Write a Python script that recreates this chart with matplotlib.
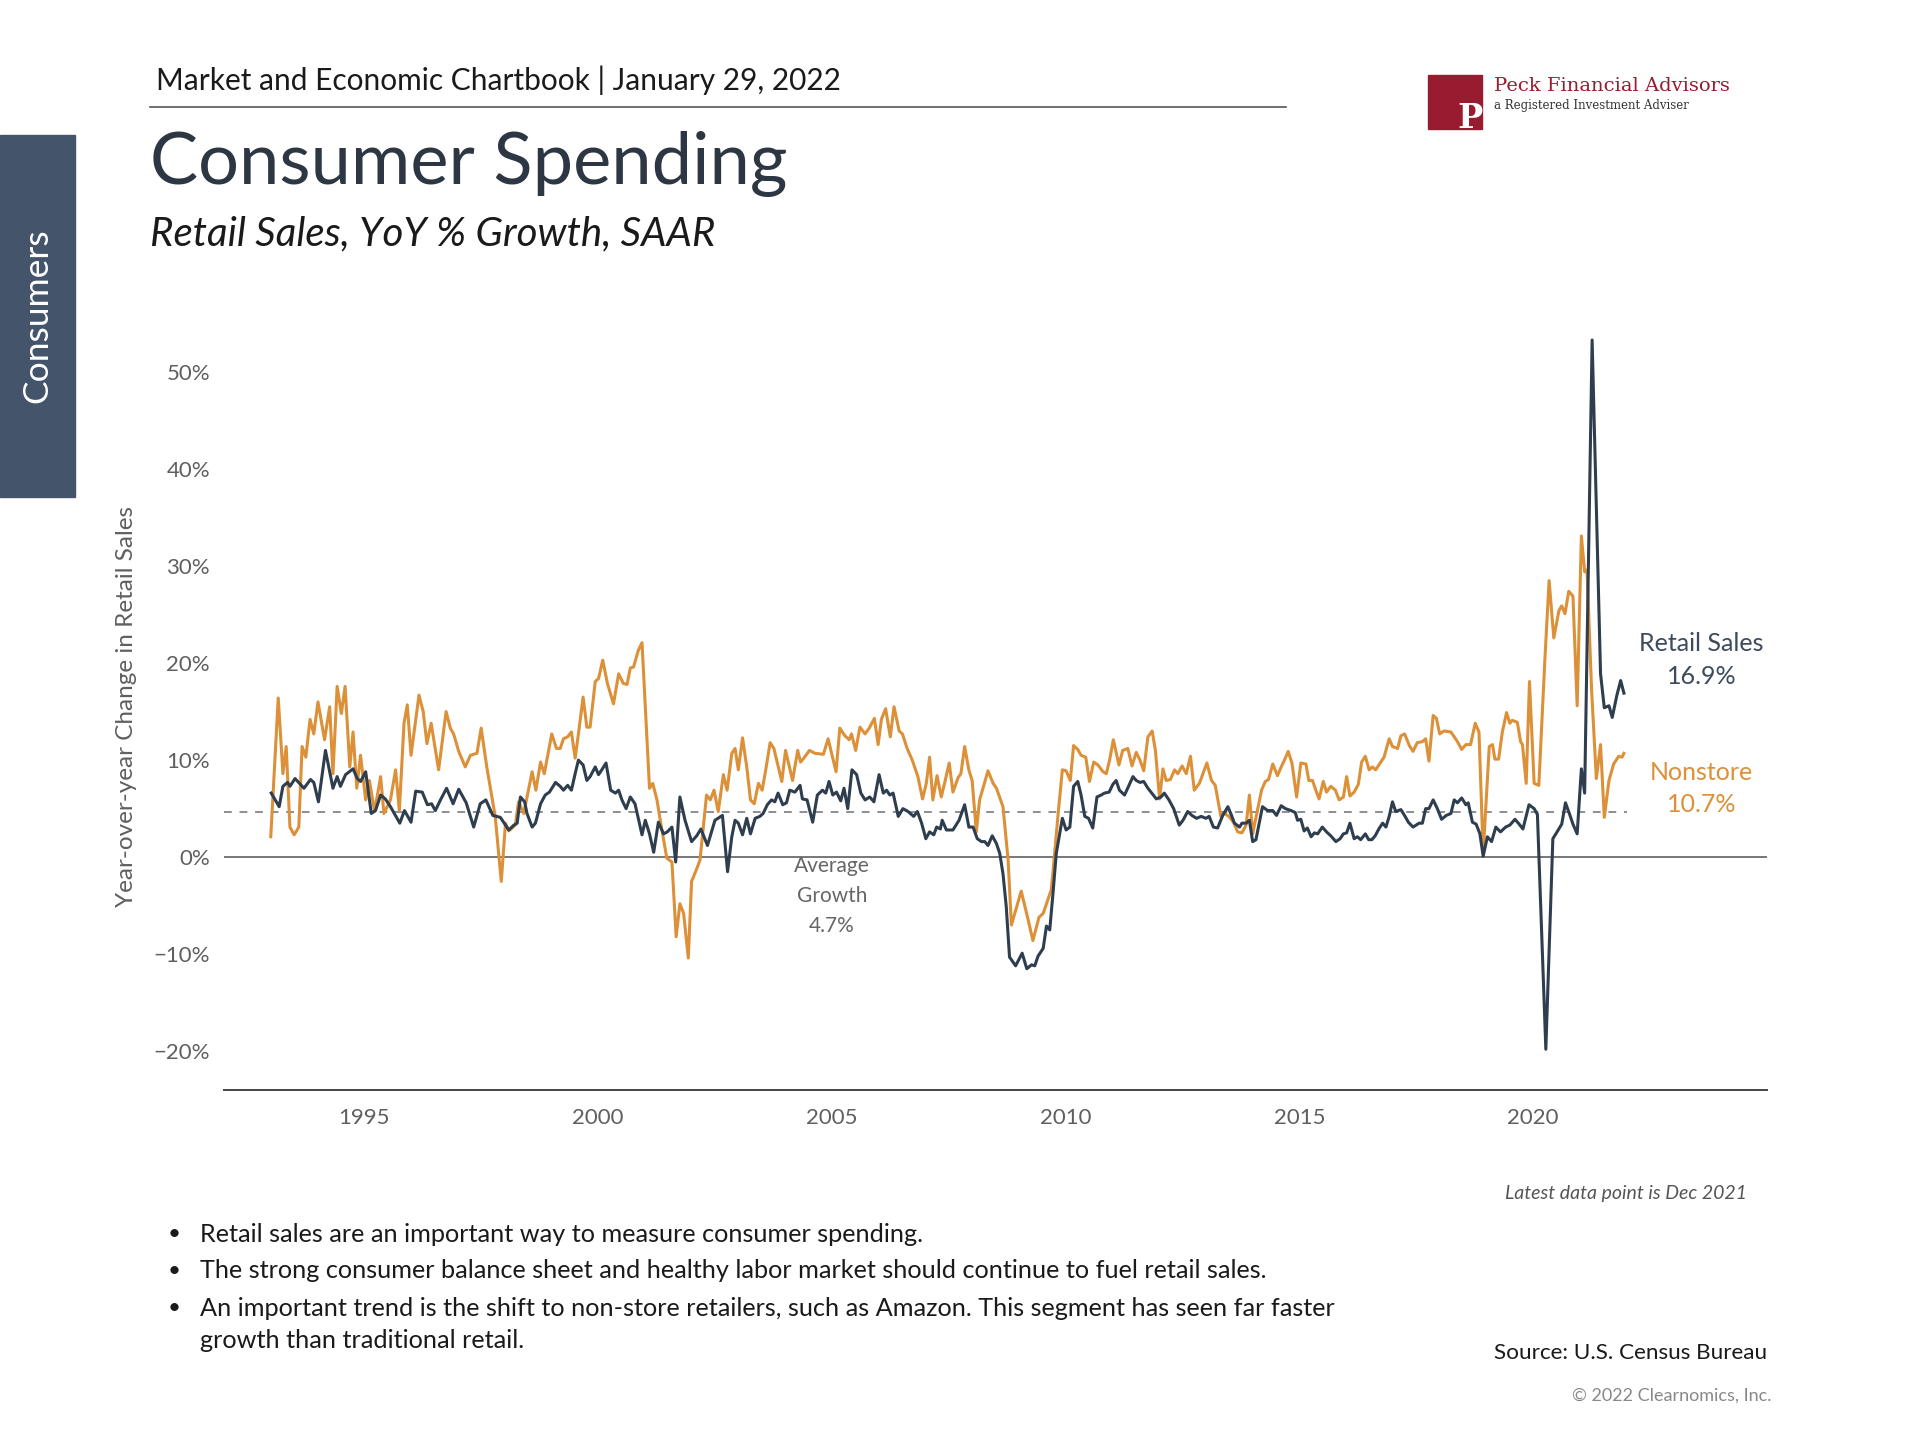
import matplotlib
matplotlib.use("Agg")
import matplotlib.pyplot as plt
from matplotlib.patches import Rectangle

# retail sales, YoY % (decimal year, value)
retail_t = [
    1993.01, 1993.18, 1993.26, 1993.36, 1993.41, 1993.52, 1993.71, 1993.85, 1993.92, 1994.02,
    1994.17, 1994.33, 1994.42, 1994.49, 1994.60, 1994.76, 1994.85, 1994.92, 1995.03, 1995.15,
    1995.24, 1995.35, 1995.45, 1995.56, 1995.76, 1995.86, 1996.00, 1996.10, 1996.24, 1996.35,
    1996.44, 1996.52, 1996.63, 1996.76, 1996.90, 1997.02, 1997.18, 1997.34, 1997.48, 1997.60,
    1997.75, 1997.91, 1998.09, 1998.20, 1998.27, 1998.34, 1998.43, 1998.48, 1998.59, 1998.66,
    1998.77, 1998.87, 1998.96, 1999.09, 1999.19, 1999.26, 1999.35, 1999.43, 1999.51, 1999.58,
    1999.68, 1999.76, 1999.83, 1999.94, 2000.01, 2000.08, 2000.17, 2000.27, 2000.37, 2000.44,
    2000.51, 2000.60, 2000.69, 2000.79, 2000.87, 2000.94, 2001.01, 2001.10, 2001.19, 2001.29,
    2001.40, 2001.48, 2001.58, 2001.66, 2001.75, 2001.86, 2002.00, 2002.11, 2002.20, 2002.34,
    2002.50, 2002.66, 2002.77, 2002.86, 2002.93, 2003.00, 2003.09, 2003.18, 2003.26, 2003.36,
    2003.46, 2003.53, 2003.62, 2003.71, 2003.78, 2003.85, 2003.95, 2004.03, 2004.10, 2004.21,
    2004.32, 2004.37, 2004.47, 2004.59, 2004.69, 2004.80, 2004.87, 2004.94, 2005.02, 2005.10,
    2005.19, 2005.26, 2005.34, 2005.43, 2005.53, 2005.62, 2005.71, 2005.81, 2005.90, 2006.01,
    2006.10, 2006.17, 2006.24, 2006.31, 2006.42, 2006.52, 2006.63, 2006.75, 2006.83, 2006.92,
    2007.01, 2007.09, 2007.18, 2007.24, 2007.32, 2007.36, 2007.45, 2007.59, 2007.72, 2007.84,
    2007.93, 2008.02, 2008.11, 2008.20, 2008.27, 2008.34, 2008.43, 2008.52, 2008.59, 2008.66,
    2008.73, 2008.80, 2008.93, 2009.07, 2009.17, 2009.27, 2009.34, 2009.41, 2009.52, 2009.59,
    2009.66, 2009.73, 2009.80, 2009.93, 2010.01, 2010.09, 2010.17, 2010.26, 2010.33, 2010.41,
    2010.49, 2010.58, 2010.67, 2010.76, 2010.83, 2010.93, 2011.01, 2011.08, 2011.15, 2011.26,
    2011.44, 2011.51, 2011.59, 2011.67, 2011.76, 2011.94, 2012.04, 2012.11, 2012.21, 2012.31,
    2012.43, 2012.51, 2012.61, 2012.70, 2012.80, 2012.90, 2013.00, 2013.07, 2013.16, 2013.25,
    2013.36, 2013.47, 2013.54, 2013.61, 2013.72, 2013.77, 2013.86, 2013.93, 2014.00, 2014.07,
    2014.14, 2014.21, 2014.32, 2014.43, 2014.51, 2014.61, 2014.70, 2014.82, 2014.91, 2014.96,
    2015.03, 2015.10, 2015.17, 2015.25, 2015.32, 2015.39, 2015.49, 2015.58, 2015.67, 2015.78,
    2015.87, 2015.94, 2016.01, 2016.08, 2016.17, 2016.24, 2016.31, 2016.41, 2016.48, 2016.55,
    2016.62, 2016.71, 2016.78, 2016.85, 2016.92, 2016.99, 2017.06, 2017.17, 2017.26, 2017.33,
    2017.43, 2017.56, 2017.63, 2017.70, 2017.77, 2017.86, 2017.95, 2018.04, 2018.14, 2018.24,
    2018.31, 2018.38, 2018.47, 2018.56, 2018.61, 2018.70, 2018.78, 2018.86, 2018.93, 2019.02,
    2019.11, 2019.20, 2019.30, 2019.41, 2019.50, 2019.61, 2019.70, 2019.78, 2019.91, 2020.02,
    2020.09, 2020.27, 2020.42, 2020.51, 2020.61, 2020.69, 2020.78, 2020.85, 2020.94, 2021.03,
    2021.10, 2021.26, 2021.44, 2021.52, 2021.62, 2021.69, 2021.79, 2021.87, 2021.94,
]
retail_v = [
    6.6, 5.2, 7.3, 7.7, 7.3, 8.1, 7.1, 8.0, 7.7, 5.7,
    11.0, 7.1, 8.3, 7.3, 8.5, 9.1, 8.1, 7.8, 8.8, 4.5,
    4.8, 6.4, 6.0, 5.2, 3.5, 4.8, 3.6, 6.8, 6.7, 5.4,
    5.5, 4.8, 5.9, 7.1, 5.5, 7.0, 5.6, 3.1, 5.5, 5.9,
    4.3, 4.1, 2.8, 3.3, 3.5, 6.2, 5.7, 4.5, 3.1, 3.5,
    5.5, 6.4, 6.7, 7.7, 7.3, 6.9, 7.4, 6.9, 8.6, 10.0,
    9.5, 7.9, 8.3, 9.3, 8.5, 9.0, 9.7, 6.9, 6.6, 6.9,
    5.9, 5.0, 6.2, 5.5, 3.8, 2.3, 3.8, 2.4, 0.5, 3.6,
    2.4, 2.6, 3.1, -0.5, 6.2, 3.8, 1.6, 2.2, 2.9, 1.2,
    3.8, 4.3, -1.5, 2.1, 3.8, 3.5, 2.3, 4.0, 2.4, 4.0,
    4.2, 4.5, 5.4, 5.9, 5.7, 6.6, 5.4, 5.6, 6.9, 6.7,
    7.4, 6.0, 5.9, 3.6, 6.4, 6.9, 6.6, 7.8, 6.4, 6.7,
    5.8, 7.1, 5.0, 9.0, 8.5, 6.6, 5.9, 6.2, 5.7, 8.5,
    6.6, 6.9, 6.4, 6.6, 4.2, 5.0, 4.7, 4.2, 4.7, 3.5,
    1.9, 2.6, 2.3, 3.1, 2.9, 3.8, 2.8, 2.8, 3.8, 5.4,
    3.1, 3.1, 1.9, 1.6, 1.6, 1.2, 2.2, 1.4, 0.4, -1.7,
    -5.1, -10.3, -11.2, -9.9, -11.5, -11.1, -11.2, -10.2, -9.4, -7.1,
    -7.5, -3.7, 0.4, 4.0, 2.8, 3.1, 7.3, 7.8, 6.4, 4.2,
    4.0, 3.0, 6.2, 6.4, 6.6, 6.7, 7.5, 7.9, 6.9, 6.4,
    8.3, 7.9, 7.7, 7.8, 7.1, 6.0, 6.2, 6.6, 5.9, 5.0,
    3.3, 3.8, 4.7, 4.3, 4.0, 4.2, 4.0, 4.2, 3.1, 3.0,
    4.3, 5.2, 4.4, 3.5, 3.1, 3.5, 3.5, 3.8, 1.6, 1.8,
    3.5, 5.2, 4.8, 4.8, 4.3, 5.3, 5.0, 4.8, 4.6, 3.8,
    3.9, 2.7, 3.0, 2.1, 2.5, 2.4, 3.1, 2.6, 2.2, 1.6,
    1.9, 2.4, 2.5, 3.5, 1.9, 2.1, 1.8, 2.4, 1.8, 1.8,
    2.2, 3.0, 3.5, 3.1, 4.2, 5.7, 4.7, 4.9, 4.2, 3.6,
    3.1, 3.5, 3.5, 5.0, 5.0, 5.9, 5.0, 3.9, 4.3, 4.5,
    5.9, 5.6, 6.1, 5.4, 5.6, 3.6, 3.4, 2.4, 0.1, 2.1,
    1.6, 3.1, 2.6, 3.1, 3.3, 3.9, 3.4, 2.9, 5.4, 5.0,
    4.4, -19.8, 1.9, 2.6, 3.4, 5.6, 4.4, 3.4, 2.4, 9.1,
    6.6, 53.3, 18.9, 15.4, 15.6, 14.4, 16.7, 18.2, 16.9,
]

# nonstore retailers, YoY %
nonstore_t = [
    1993.00, 1993.16, 1993.26, 1993.33, 1993.41, 1993.50, 1993.60, 1993.67, 1993.75, 1993.84,
    1993.92, 1994.01, 1994.15, 1994.26, 1994.33, 1994.42, 1994.51, 1994.59, 1994.69, 1994.76,
    1994.84, 1994.92, 1995.03, 1995.11, 1995.22, 1995.35, 1995.42, 1995.56, 1995.67, 1995.75,
    1995.85, 1995.92, 1996.00, 1996.17, 1996.26, 1996.34, 1996.43, 1996.59, 1996.75, 1996.84,
    1996.91, 1997.02, 1997.16, 1997.27, 1997.41, 1997.50, 1997.62, 1997.80, 1997.93, 1998.02,
    1998.09, 1998.23, 1998.30, 1998.41, 1998.59, 1998.67, 1998.77, 1998.85, 1999.01, 1999.11,
    1999.19, 1999.26, 1999.35, 1999.43, 1999.51, 1999.58, 1999.68, 1999.76, 1999.83, 1999.94,
    2000.01, 2000.10, 2000.20, 2000.33, 2000.44, 2000.54, 2000.62, 2000.69, 2000.76, 2000.86,
    2000.94, 2001.10, 2001.17, 2001.26, 2001.33, 2001.47, 2001.58, 2001.67, 2001.75, 2001.83,
    2001.93, 2002.00, 2002.11, 2002.18, 2002.32, 2002.40, 2002.48, 2002.57, 2002.68, 2002.76,
    2002.86, 2002.93, 2003.00, 2003.09, 2003.18, 2003.26, 2003.34, 2003.43, 2003.51, 2003.59,
    2003.68, 2003.76, 2003.93, 2004.01, 2004.16, 2004.27, 2004.33, 2004.40, 2004.52, 2004.64,
    2004.82, 2004.92, 2005.09, 2005.17, 2005.28, 2005.37, 2005.42, 2005.51, 2005.60, 2005.71,
    2005.80, 2005.91, 2005.99, 2006.06, 2006.15, 2006.25, 2006.33, 2006.44, 2006.51, 2006.61,
    2006.72, 2006.84, 2006.94, 2007.02, 2007.09, 2007.16, 2007.25, 2007.34, 2007.41, 2007.51,
    2007.59, 2007.70, 2007.76, 2007.84, 2007.93, 2008.00, 2008.09, 2008.16, 2008.34, 2008.45,
    2008.52, 2008.66, 2008.77, 2008.84, 2008.93, 2009.05, 2009.20, 2009.30, 2009.43, 2009.52,
    2009.69, 2009.73, 2009.84, 2009.93, 2010.01, 2010.10, 2010.17, 2010.26, 2010.33, 2010.43,
    2010.51, 2010.60, 2010.69, 2010.80, 2010.87, 2010.94, 2011.02, 2011.14, 2011.22, 2011.33,
    2011.42, 2011.51, 2011.59, 2011.67, 2011.76, 2011.85, 2011.92, 2012.01, 2012.08, 2012.15,
    2012.24, 2012.33, 2012.40, 2012.49, 2012.58, 2012.67, 2012.75, 2012.86, 2013.02, 2013.12,
    2013.20, 2013.32, 2013.40, 2013.49, 2013.59, 2013.68, 2013.77, 2013.86, 2013.93, 2014.00,
    2014.11, 2014.19, 2014.27, 2014.34, 2014.43, 2014.53, 2014.61, 2014.68, 2014.76, 2014.84,
    2014.94, 2015.03, 2015.14, 2015.20, 2015.28, 2015.35, 2015.42, 2015.51, 2015.58, 2015.67,
    2015.77, 2015.85, 2015.94, 2016.01, 2016.08, 2016.17, 2016.26, 2016.33, 2016.41, 2016.49,
    2016.56, 2016.63, 2016.74, 2016.81, 2016.92, 2016.99, 2017.10, 2017.17, 2017.25, 2017.35,
    2017.43, 2017.52, 2017.63, 2017.70, 2017.77, 2017.86, 2017.93, 2018.00, 2018.09, 2018.24,
    2018.38, 2018.47, 2018.56, 2018.66, 2018.76, 2018.84, 2018.93, 2019.06, 2019.13, 2019.18,
    2019.26, 2019.34, 2019.43, 2019.50, 2019.55, 2019.66, 2019.73, 2019.77, 2019.85, 2019.92,
    2020.02, 2020.12, 2020.25, 2020.34, 2020.44, 2020.55, 2020.61, 2020.68, 2020.76, 2020.85,
    2020.94, 2021.03, 2021.10, 2021.15, 2021.25, 2021.35, 2021.44, 2021.52, 2021.62, 2021.72,
    2021.83, 2021.90, 2021.94,
]
nonstore_v = [
    2.1, 16.4, 8.6, 11.4, 3.1, 2.3, 3.1, 11.4, 10.3, 14.2,
    12.7, 16.0, 12.1, 15.5, 8.6, 17.6, 14.8, 17.6, 9.3, 12.9,
    7.1, 10.5, 5.9, 7.9, 4.7, 8.3, 4.5, 5.9, 9.0, 4.8,
    13.8, 15.7, 10.5, 16.7, 15.0, 11.7, 13.8, 9.0, 15.0, 13.3,
    12.7, 10.9, 9.3, 10.5, 10.7, 13.3, 9.3, 4.2, -2.5, 3.5,
    2.7, 3.3, 5.7, 4.5, 8.8, 6.9, 9.8, 8.6, 12.7, 11.2,
    11.2, 12.2, 12.4, 12.9, 10.2, 12.7, 16.5, 13.4, 13.4, 18.1,
    18.4, 20.3, 17.9, 15.8, 18.9, 17.9, 17.8, 19.5, 19.6, 21.3,
    22.1, 7.1, 7.6, 5.9, 3.8, -0.1, -0.5, -8.2, -4.8, -5.8,
    -10.4, -2.5, -1.2, -0.3, 6.4, 5.9, 6.9, 4.7, 8.5, 6.9,
    10.7, 11.2, 9.0, 12.3, 9.3, 5.9, 5.5, 7.6, 6.9, 9.1,
    11.8, 11.2, 7.8, 11.0, 7.9, 11.0, 9.8, 10.2, 11.0, 10.7,
    10.6, 12.2, 8.8, 13.3, 12.5, 12.1, 12.7, 11.0, 13.4, 12.7,
    13.3, 14.3, 11.6, 14.2, 15.3, 12.4, 15.5, 13.0, 12.7, 11.2,
    10.0, 8.3, 6.0, 7.6, 10.3, 5.9, 8.4, 6.2, 7.6, 9.7,
    6.7, 8.2, 8.6, 11.4, 9.0, 7.9, 2.6, 5.9, 8.9, 7.6,
    7.1, 5.2, -0.3, -7.0, -5.5, -3.5, -6.5, -8.6, -6.2, -5.8,
    -3.4, -1.5, 4.5, 9.0, 8.9, 7.9, 11.5, 11.1, 10.5, 10.3,
    7.8, 9.8, 9.5, 8.8, 8.6, 10.0, 12.1, 9.5, 11.0, 11.2,
    9.4, 10.8, 10.0, 8.9, 12.4, 13.0, 11.0, 6.0, 9.1, 7.9,
    8.0, 9.0, 8.6, 9.4, 8.6, 10.4, 6.9, 7.6, 9.7, 7.9,
    7.4, 4.2, 4.5, 4.2, 3.6, 2.6, 2.5, 3.3, 6.4, 2.4,
    5.0, 6.9, 7.8, 8.0, 9.6, 8.4, 9.3, 10.0, 10.9, 9.7,
    6.2, 9.7, 9.6, 7.9, 7.9, 6.9, 6.0, 7.8, 6.7, 7.3,
    6.9, 5.9, 6.2, 8.3, 6.3, 6.7, 7.5, 9.8, 10.4, 9.0,
    9.3, 9.0, 9.8, 10.3, 12.2, 11.4, 11.2, 12.5, 12.7, 11.5,
    10.9, 11.8, 11.9, 12.2, 9.9, 14.6, 14.3, 12.7, 13.0, 12.9,
    11.9, 11.1, 11.6, 11.6, 13.8, 12.9, 0.4, 11.4, 11.6, 10.1,
    10.1, 12.9, 14.9, 13.8, 14.1, 13.9, 11.9, 11.6, 7.6, 18.1,
    7.6, 7.4, 20.4, 28.5, 22.6, 25.4, 25.9, 25.1, 27.4, 26.9,
    15.6, 33.1, 29.4, 29.6, 17.1, 8.1, 11.6, 4.1, 7.9, 9.6,
    10.4, 10.3, 10.7,
]

avg_growth = 4.7
y_ticks = [-20, -10, 0, 10, 20, 30, 40, 50]
x_ticks = [1995, 2000, 2005, 2010, 2015, 2020]

bullets = [
    ["Retail sales are an important way to measure consumer spending."],
    ["The strong consumer balance sheet and healthy labor market should continue to fuel retail sales."],
    ["An important trend is the shift to non-store retailers, such as Amazon. This segment has seen far faster",
     "growth than traditional retail."],
]

BLUE = "#2e3e4e"
ORANGE = "#dc9038"
SLATE = "#44546a"
MAROON = "#981b30"
GREY = "#5f5f5f"

plt.rcParams["font.family"] = ["Lato", "DejaVu Sans"]

fig = plt.figure(figsize=(19.2, 14.4), dpi=100)

# header
fig.text(156 / 1920, 1 - 80 / 1440, "Market and Economic Chartbook | January 29, 2022",
         fontsize=21.5, color="#1a1a1a", va="center", ha="left")
fig.add_artist(plt.Line2D([150 / 1920, 1286 / 1920], [1 - 107 / 1440] * 2, color="#555555", lw=1.2))
fig.text(150 / 1920, 1 - 164 / 1440, "Consumer Spending", fontsize=52, color="#2d3743",
         va="center", ha="left")
fig.text(150 / 1920, 1 - 234 / 1440, "Retail Sales, YoY % Growth, SAAR", fontsize=29,
         style="italic", color="#1a1a1a", va="center", ha="left")

# side tab
fig.patches.append(Rectangle((0, 1 - 497 / 1440), 75 / 1920, 362 / 1440,
                             transform=fig.transFigure, color=SLATE, zorder=0))
fig.text(37 / 1920, 1 - 316 / 1440, "Consumers", rotation=90, fontsize=25.5, color="white",
         va="center", ha="center")

# logo
fig.patches.append(Rectangle((1428 / 1920, 1 - 129 / 1440), 54 / 1920, 54 / 1440,
                             transform=fig.transFigure, color=MAROON, zorder=0))
fig.text(1470 / 1920, 1 - 118 / 1440, "P", fontsize=24, color="white", fontweight="bold",
         family="DejaVu Serif", va="center", ha="center")
fig.text(1494 / 1920, 1 - 86 / 1440, "Peck Financial Advisors", fontsize=14, color=MAROON,
         family="DejaVu Serif", va="center", ha="left")
fig.text(1494 / 1920, 1 - 106 / 1440, "a Registered Investment Adviser", fontsize=8.5,
         color="#333333", family="DejaVu Serif", va="center", ha="left")

# chart
ax = fig.add_axes([224 / 1920, 1 - 1090 / 1440, 1543 / 1920, 766.5 / 1440])
ax.plot(nonstore_t, nonstore_v, color=ORANGE, lw=2.2, zorder=3)
ax.plot(retail_t, retail_v, color=BLUE, lw=2.2, zorder=4)
ax.axhline(0, color="#777777", lw=1.4, zorder=1)
ax.plot([1992, 2022.0], [avg_growth, avg_growth], color="#8a8f96", lw=1.4, ls=(0, (4, 4)), zorder=2)

ax.set_xlim(1992, 2025)
ax.set_ylim(-24, 55)
ax.set_yticks(y_ticks)
ax.set_yticklabels([f"{t}%".replace("-", "\u2212") for t in y_ticks])
ax.set_xticks(x_ticks)
ax.tick_params(length=0, labelsize=16, labelcolor=GREY, pad=10)
ax.tick_params(axis="x", pad=13)
for s in ["top", "right", "left"]:
    ax.spines[s].set_visible(False)
ax.spines["bottom"].set_color("#444444")
ax.spines["bottom"].set_linewidth(1.4)
ax.set_ylabel("Year-over-year Change in Retail Sales", fontsize=17.5, color=GREY, labelpad=12)

ax.text(2005.0, -4.0, "Average\nGrowth\n4.7%", fontsize=15, color="#666666",
        ha="center", va="center", linespacing=1.6)
ax.text(2023.6, 20.3, f"Retail Sales\n{retail_v[-1]:.1f}%", fontsize=18, color="#3d4b5c",
        ha="center", va="center", linespacing=1.5)
ax.text(2023.6, 7.1, f"Nonstore\n{nonstore_v[-1]:.1f}%", fontsize=18, color=ORANGE,
        ha="center", va="center", linespacing=1.5)

# footer
fig.text(1747 / 1920, 1 - 1194 / 1440, "Latest data point is Dec 2021", fontsize=14,
         style="italic", color="#555555", ha="right", va="center")
y = 1234
for lines in bullets:
    fig.text(168 / 1920, 1 - y / 1440, "\u2022", fontsize=16, color="#1a1a1a", ha="left", va="center")
    for ln in lines:
        fig.text(200 / 1920, 1 - y / 1440, ln, fontsize=18.2, color="#1a1a1a", ha="left",
                 va="center")
        y += 33
    y += 4
fig.text(1767 / 1920, 1 - 1353 / 1440, "Source: U.S. Census Bureau", fontsize=16.2,
         color="#1a1a1a", ha="right", va="center")
fig.text(1771 / 1920, 1 - 1396 / 1440, "\u00a9 2022 Clearnomics, Inc.", fontsize=13,
         color="#888888", ha="right", va="center")

fig.savefig("out.png", dpi=100)
